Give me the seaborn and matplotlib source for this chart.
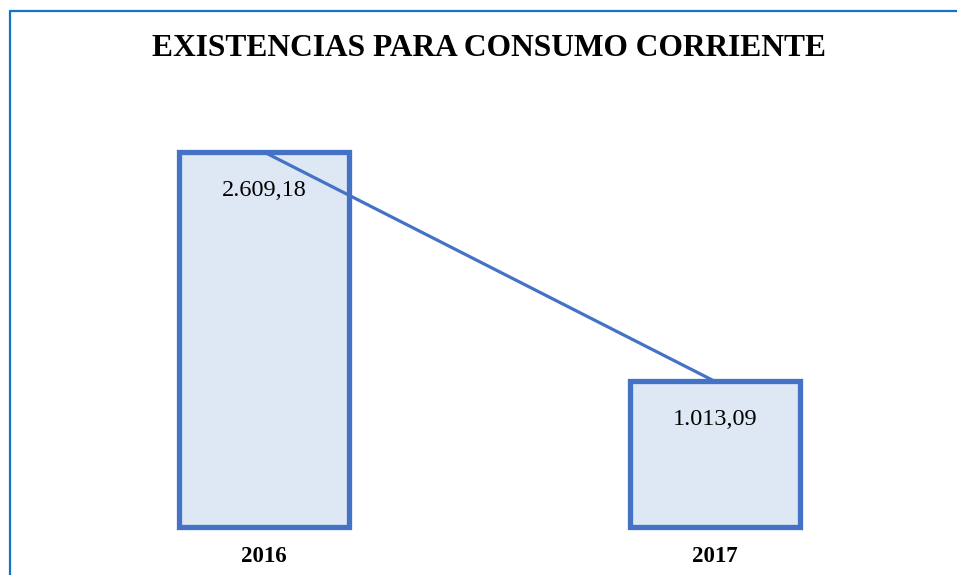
import matplotlib
matplotlib.use("Agg")
import matplotlib.pyplot as plt
import seaborn as sns
import pandas as pd
from matplotlib.lines import Line2D

years = ["2016", "2017"]
values = [2609.18, 1013.09]
value_labels = ["2.609,18", "1.013,09"]
title = "EXISTENCIAS PARA CONSUMO CORRIENTE"

sns.set_theme(style="white")
plt.rcParams["font.family"] = ["Liberation Serif", "DejaVu Serif"]

df = pd.DataFrame({"year": years, "value": values})

fig = plt.figure(figsize=(9.57, 5.75), dpi=100)
ax = fig.add_axes([0.0402, 0.08348, 0.9425, 0.6749])

edge = "#4472C4"
fill = "#DEE8F5"
sns.barplot(data=df, x="year", y="value", ax=ax, color=fill, width=0.378,
            edgecolor=edge, linewidth=3.8, saturation=1)
for patch in ax.patches:
    patch.set_clip_on(False)

positions = list(range(len(years)))
ax.plot(positions, values, color=edge, linewidth=2.3, zorder=3)

for p, v, lab in zip(positions, values, value_labels):
    ax.annotate(lab, xy=(p, v), xytext=(0, -20), textcoords="offset points",
                ha="center", va="top", fontsize=17.5, color="black", zorder=4)

ax.set_xlim(-0.5, 1.5)
ax.set_ylim(0, 2700)
ax.set_xlabel("")
ax.set_ylabel("")
ax.set_yticks([])
ax.tick_params(axis="x", length=0, pad=14, colors="black")
for t in ax.get_xticklabels():
    t.set_fontweight("bold")
    t.set_fontsize(16.5)
    t.set_color("black")
for s in ax.spines.values():
    s.set_visible(False)

fig.text(0.511, 1 - 49 / 575, title, ha="center", va="center",
         fontsize=22.7, fontweight="bold", color="black")

border = "#1273CC"
fig.add_artist(Line2D([9.5 / 957, 9.5 / 957], [0, 1 - 10.5 / 575],
                      transform=fig.transFigure, color=border, linewidth=1.6))
fig.add_artist(Line2D([9.5 / 957, 1], [1 - 10.5 / 575, 1 - 10.5 / 575],
                      transform=fig.transFigure, color=border, linewidth=1.6))

fig.savefig("out.png", dpi=100)
